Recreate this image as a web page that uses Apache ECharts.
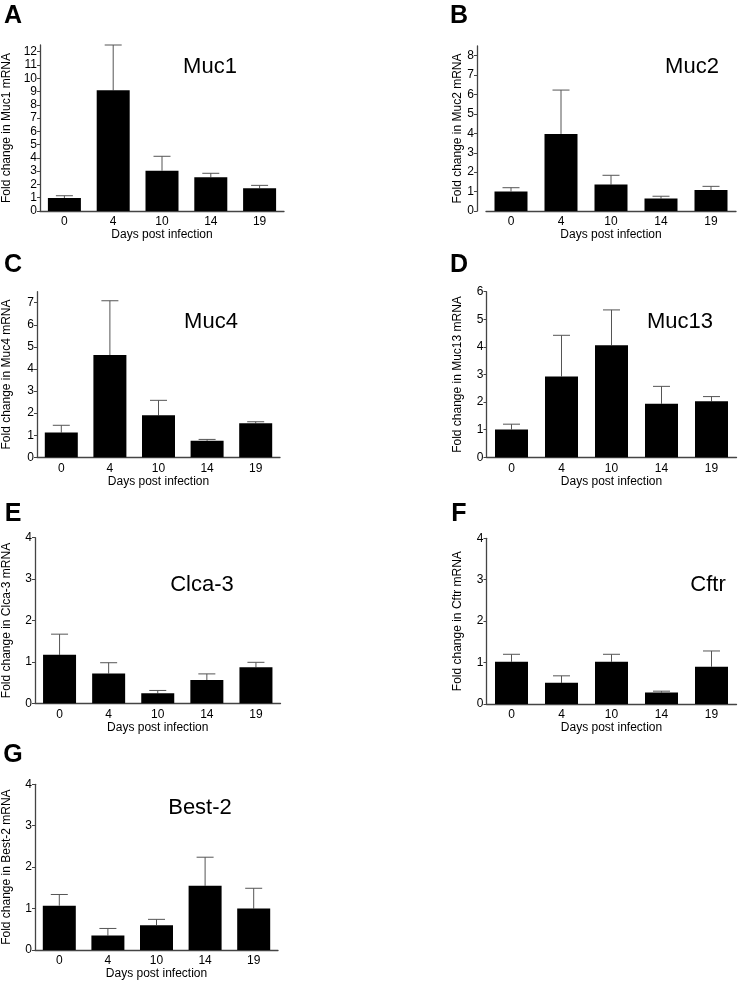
<!DOCTYPE html>
<html><head><meta charset="utf-8">
<script src="https://cdn.jsdelivr.net/npm/echarts@6/dist/echarts.min.js"></script>
<style>html,body{margin:0;padding:0;background:#fff}#c{width:739px;height:983px}</style>
</head><body><div id="c"></div>
<script>
// ---- data ----
var days = ['0', '4', '10', '14', '19'];
var genes = ['Muc1', 'Muc2', 'Muc4', 'Muc13', 'Clca-3', 'Cftr', 'Best-2'];
var panelLetters = ['A', 'B', 'C', 'D', 'E', 'F', 'G'];
var muc1Mean = [0.98, 9.09, 3.04, 2.54, 1.71];
var muc1Sem  = [0.17, 3.41, 1.08, 0.30, 0.22];
var muc2Mean = [1.01, 3.97, 1.36, 0.64, 1.08];
var muc2Sem  = [0.19, 2.26, 0.48, 0.12, 0.19];
var muc4Mean = [1.12, 4.63, 1.90, 0.75, 1.54];
var muc4Sem  = [0.33, 2.46, 0.68, 0.06, 0.07];
var muc13Mean = [1.01, 2.93, 4.06, 1.94, 2.03];
var muc13Sem  = [0.19, 1.49, 1.28, 0.63, 0.17];
var clca3Mean = [1.17, 0.72, 0.24, 0.56, 0.87];
var clca3Sem  = [0.50, 0.26, 0.07, 0.15, 0.12];
var cftrMean = [1.02, 0.51, 1.02, 0.28, 0.90];
var cftrSem  = [0.18, 0.17, 0.18, 0.03, 0.38];
var best2Mean = [1.07, 0.35, 0.60, 1.55, 1.00];
var best2Sem  = [0.27, 0.17, 0.14, 0.69, 0.49];
var yMax = [12.5, 8.5, 7.5, 6, 4, 4, 4];
var yTicks = [
  [0,1,2,3,4,5,6,7,8,9,10,11,12],
  [0,1,2,3,4,5,6,7,8],
  [0,1,2,3,4,5,6,7],
  [0,1,2,3,4,5,6],
  [0,1,2,3,4],
  [0,1,2,3,4],
  [0,1,2,3,4]
];
var means = [muc1Mean, muc2Mean, muc4Mean, muc13Mean, clca3Mean, cftrMean, best2Mean];
var sems = [muc1Sem, muc2Sem, muc4Sem, muc13Sem, clca3Sem, cftrSem, best2Sem];

// ---- layout (styles) ----
var layout = [
  {left: 35,  top: 45,    width: 249, height: 166, yOff: 0,  nameGap: 27, title: [210, 67],  letter: [13, 16]},
  {left: 486, top: 46,    width: 250, height: 165, yOff: 9,  nameGap: 12, title: [692, 67],  letter: [459, 16]},
  {left: 31,  top: 291.7, width: 249, height: 165.6, yOff: 0, nameGap: 24, title: [211, 322], letter: [13, 265]},
  {left: 486.5, top: 291.7, width: 250, height: 165.6, yOff: 0, nameGap: 23, title: [680, 322], letter: [459, 265]},
  {left: 30.5, top: 537.7, width: 250, height: 165.6, yOff: 0, nameGap: 22, title: [202, 585], letter: [13, 514]},
  {left: 486.5, top: 538.3, width: 250, height: 165.7, yOff: 0, nameGap: 23, title: [708, 585], letter: [459, 514]},
  {left: 29, top: 784.3, width: 249, height: 165.7, yOff: 0, nameGap: 22, title: [200, 808], letter: [13, 755]}
];

var FONT = '"Liberation Sans", Arial, Helvetica, sans-serif';
var grids = [], xAxes = [], yAxes = [], series = [], graphics = [];

genes.forEach(function (g, k) {
  var L = layout[k];
  grids.push({left: L.left, top: L.top, width: L.width, height: L.height, containLabel: false});
  xAxes.push({
    type: 'category', gridIndex: k, data: days,
    name: 'Days post infection', nameLocation: 'middle', nameGap: 18,
    nameTextStyle: {fontFamily: FONT, fontSize: 12, color: '#000'},
    axisLine: {lineStyle: {color: '#444', width: 1.3}},
    axisTick: {show: false},
    axisLabel: {fontFamily: FONT, fontSize: 12, color: '#000', margin: 5}
  });
  yAxes.push({
    type: 'value', gridIndex: k, min: 0, max: yMax[k], interval: 1, offset: L.yOff,
    name: 'Fold change in ' + g + ' mRNA', nameLocation: 'middle', nameGap: L.nameGap, nameRotate: 90,
    nameTextStyle: {fontFamily: FONT, fontSize: 12, color: '#000'},
    axisLine: {show: true, lineStyle: {color: '#444', width: 1.3}},
    axisTick: {show: true, length: 3, lineStyle: {color: '#444'}, customValues: yTicks[k]},
    axisLabel: {fontFamily: FONT, fontSize: 12, color: '#000', margin: 3, customValues: yTicks[k]},
    splitLine: {show: false}
  });
  series.push({
    type: 'bar', xAxisIndex: k, yAxisIndex: k, data: means[k], barWidth: 33,
    itemStyle: {color: '#000'}, silent: true
  });
  var errData = means[k].map(function (m, i) { return [i, m, m + sems[k][i]]; });
  series.push({
    type: 'custom', xAxisIndex: k, yAxisIndex: k, data: errData, silent: true, z: 1,
    renderItem: function (params, api) {
      var p0 = api.coord([api.value(0), api.value(1)]);
      var p1 = api.coord([api.value(0), api.value(2)]);
      var hw = 8.5;
      var st = {stroke: '#555', lineWidth: 1};
      return {type: 'group', children: [
        {type: 'line', shape: {x1: p0[0], y1: p0[1], x2: p1[0], y2: p1[1]}, style: st},
        {type: 'line', shape: {x1: p1[0] - hw, y1: p1[1], x2: p1[0] + hw, y2: p1[1]}, style: st}
      ]};
    }
  });
  graphics.push({type: 'text', x: L.title[0], y: L.title[1],
    style: {text: g, font: '22px ' + FONT, fill: '#000', textAlign: 'center', textVerticalAlign: 'middle'}});
  graphics.push({type: 'text', x: L.letter[0], y: L.letter[1],
    style: {text: panelLetters[k], font: 'bold 25px ' + FONT, fill: '#000', textAlign: 'center', textVerticalAlign: 'middle'}});
});

var chart = echarts.init(document.getElementById('c'), null, {renderer: 'canvas'});
chart.setOption({
  animation: false,
  backgroundColor: '#fff',
  grid: grids, xAxis: xAxes, yAxis: yAxes, series: series, graphic: graphics
});
</script>
</body></html>
